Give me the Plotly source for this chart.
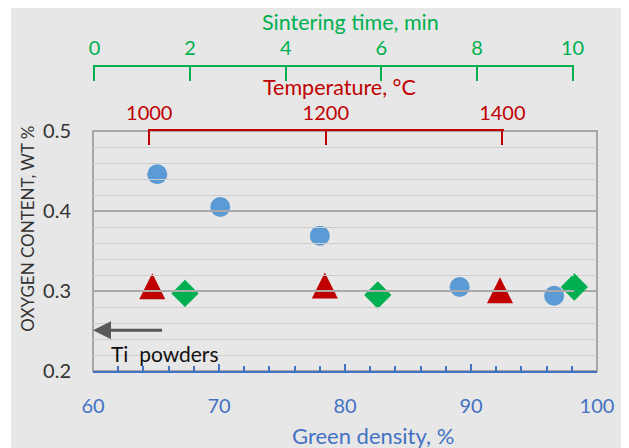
import plotly.graph_objects as go

# ---- data ----
circle_density = [65.1, 70.1, 78.0, 89.1, 96.6]
circle_oxygen = [0.446, 0.405, 0.369, 0.305, 0.294]
triangle_density = [64.7, 78.4, 92.3]
triangle_oxygen = [0.306, 0.307, 0.301]
diamond_density = [67.3, 82.6, 98.2]
diamond_oxygen = [0.297, 0.295, 0.305]

x_ticks = [60, 70, 80, 90, 100]
y_ticks = [0.2, 0.3, 0.4, 0.5]
time_ticks = [0, 2, 4, 6, 8, 10]
temp_ticks = [1000, 1200, 1400]

ti_powder_oxygen = 0.251
ti_arrow_from = 65.6

BLUE = "#4472C4"
GREEN = "#00B050"
RED = "#C00000"
GREY_TXT = "#333333"
FONT = "Lato"

# page has an 8px body margin; figure is 621x440 so it ends at the window edge
OFF = 8
W, H = 621, 440
L, R, T, B = 85, 32, 12, 77
PW, PH = W - L - R, H - T - B


def px(xp):  # reference-picture x pixel -> paper x
    return (xp - OFF - L) / PW


def py(yp):  # reference-picture y pixel -> paper y
    return (H - B - (yp - OFF)) / PH


y_top = py(131)

fig = go.Figure()

fig.add_trace(go.Scatter(x=circle_density, y=circle_oxygen, mode="markers",
                         marker=dict(symbol="circle", size=20, color="#5B9BD5", line=dict(width=0)),
                         showlegend=False))
fig.add_trace(go.Scatter(x=triangle_density, y=triangle_oxygen, mode="markers",
                         marker=dict(symbol="arrow-down", angle=180, standoff=13, size=26,
                                     color=RED, line=dict(width=0)),
                         showlegend=False))
fig.add_trace(go.Scatter(x=diamond_density, y=diamond_oxygen, mode="markers",
                         marker=dict(symbol="diamond", size=21, color=GREEN, line=dict(width=0)),
                         showlegend=False))
# dummy traces to register the extra top axes
fig.add_trace(go.Scatter(x=[], y=[], xaxis="x2", yaxis="y", showlegend=False, hoverinfo="skip"))
fig.add_trace(go.Scatter(x=[], y=[], xaxis="x3", yaxis="y", showlegend=False, hoverinfo="skip"))

fig.update_layout(
    width=W, height=H,
    margin=dict(l=L, r=R, t=T, b=B, autoexpand=False),
    paper_bgcolor="#E7E7E7",
    plot_bgcolor="rgba(0,0,0,0)",
    font=dict(family=FONT, size=20, color=GREY_TXT),
    showlegend=False,
    xaxis=dict(range=[60, 100], tickvals=x_ticks, ticks="inside", ticklen=7, tickwidth=1.5,
               tickcolor=BLUE, showline=True, linecolor=BLUE, linewidth=2, showgrid=False,
               zeroline=False, tickfont=dict(family=FONT, size=20, color=BLUE),
               ticklabelstandoff=16, automargin=False,
               minor=dict(dtick=2, ticks="inside", ticklen=5, tickwidth=1.5, tickcolor=BLUE,
                          showgrid=False),
               domain=[0, 1]),
    yaxis=dict(range=[0.2, 0.5], tickvals=y_ticks, tickformat=".1f", domain=[0, y_top],
               showline=False, ticks="", zeroline=False, automargin=False,
               showgrid=True, gridcolor="#AAAAAA", gridwidth=1.5,
               minor=dict(dtick=0.02, showgrid=True, gridcolor="#CDCDCD", gridwidth=1),
               tickfont=dict(family=FONT, size=20, color=GREY_TXT), ticklabelstandoff=21),
    xaxis2=dict(range=[-0.03, 10.03], tickvals=time_ticks, side="top", anchor="free",
                position=py(65.7), domain=[0, px(574)], automargin=False,
                ticks="inside", ticklen=14, tickwidth=2, tickcolor=GREEN,
                showline=True, linecolor=GREEN, linewidth=2, showgrid=False, zeroline=False,
                tickfont=dict(family=FONT, size=20, color=GREEN), ticklabelstandoff=2),
    xaxis3=dict(range=[998, 1402], tickvals=temp_ticks, side="top", anchor="y",
                domain=[px(147.5), px(504.1)], automargin=False,
                ticks="inside", ticklen=14, tickwidth=2, tickcolor=RED,
                showline=True, linecolor=RED, linewidth=2, showgrid=False, zeroline=False,
                tickfont=dict(family=FONT, size=20, color=RED), ticklabelstandoff=1),
)

shapes = [
    # extra white strip on the left edge
    dict(type="rect", xref="paper", yref="paper", x0=px(-5), x1=px(11), y0=py(460), y1=py(-5),
         fillcolor="white", line=dict(width=0), layer="below"),
    # grey plot frame
    dict(type="rect", xref="x domain", yref="y domain", x0=0, x1=1, y0=0, y1=1,
         line=dict(color="#A6A6A6", width=2), layer="below"),
]
fig.update_layout(shapes=shapes)

annotations = [
    dict(text="Sintering time, min", xref="paper", yref="paper", x=px(350), y=py(22),
         showarrow=False, xanchor="center", yanchor="middle", borderpad=0,
         font=dict(family=FONT, size=21.5, color=GREEN)),
    dict(text="Temperature, °C", xref="paper", yref="paper", x=px(339), y=py(87),
         showarrow=False, xanchor="center", yanchor="middle", borderpad=0,
         font=dict(family=FONT, size=21.5, color=RED)),
    dict(text="OXYGEN CONTENT, WT %", xref="paper", yref="paper", x=px(26.7), y=py(229),
         showarrow=False, textangle=-90, xanchor="center", yanchor="middle",
         font=dict(family=FONT, size=17, color=GREY_TXT)),
    dict(text="Green density, %", xref="paper", yref="paper", x=px(373), y=py(435),
         showarrow=False, xanchor="center", yanchor="middle", borderpad=0,
         font=dict(family=FONT, size=22, color=BLUE)),
    dict(text="Ti\u00a0\u00a0powders", xref="x", yref="y", x=61.27, y=0.2225,
         showarrow=False, xanchor="left", yanchor="middle",
         font=dict(family=FONT, size=21, color="#111111")),
    dict(text="", xref="x", yref="y", x=60, y=ti_powder_oxygen,
         axref="x", ayref="y", ax=ti_arrow_from, ay=ti_powder_oxygen,
         showarrow=True, arrowhead=2, arrowsize=1.2, arrowwidth=3, arrowcolor="#595959"),
]
fig.update_layout(annotations=annotations)

fig.write_html("out.html")
